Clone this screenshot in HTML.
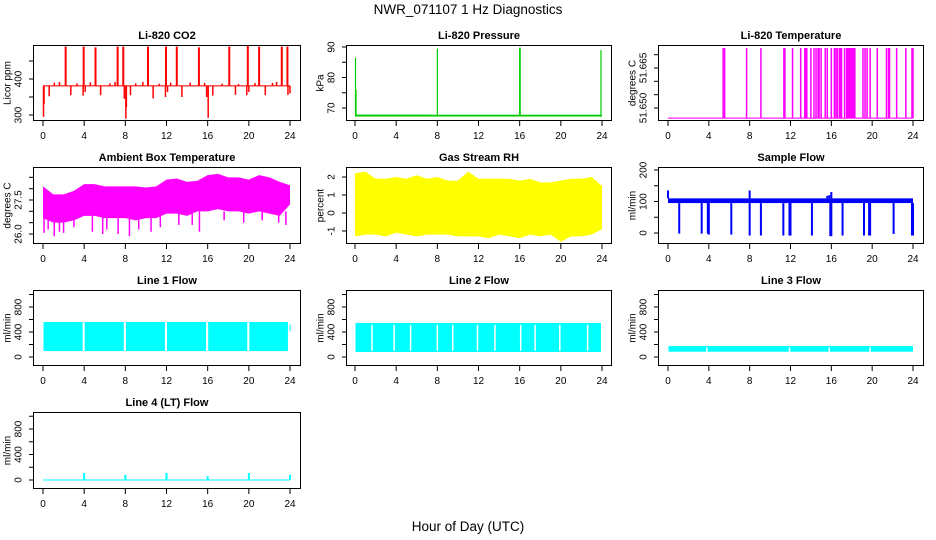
<!DOCTYPE html>
<html><head><meta charset="utf-8"><style>
html,body{margin:0;padding:0;background:#fff;}
svg{display:block;font-family:"Liberation Sans",sans-serif;}
</style></head><body>
<svg id="chart" width="936" height="540" viewBox="0 0 936 540">
<text x="468" y="14" text-anchor="middle" font-size="13.5">NWR_071107  1 Hz Diagnostics</text>
<text x="468" y="531" text-anchor="middle" font-size="13.5">Hour of Day (UTC)</text>
</svg>
<script>
// ---------- data ----------
const xTicks = [0,4,8,12,16,20,24];
// CO2
const co2Base = 381;
const co2UpSpikeHours = [2.2,3.95,5.1,7.25,7.8,10.2,11.95,13.0,15.15,18.1,19.9,21.0,23.2,23.75];
const co2UpSpikeValues = [490,490,488,490,490,490,490,490,488,490,492,490,490,490];
const co2DownHours = [0.05,0.1,0.6,2.7,3.9,4.1,5.6,7.9,8.05,8.1,8.5,10.7,11.9,12.1,13.5,15.9,16.05,16.5,18.7,19.8,20.0,21.6,23.8,24.0];
const co2DownValues = [295,330,352,355,354,364,355,345,290,322,355,346,350,364,350,350,292,354,356,355,364,355,356,360];
const co2SmallHours = [1.1,1.6,3.3,4.6,6.5,7.0,9.0,9.7,11.3,12.4,14.3,15.7,17.4,19.0,20.6,22.3,22.7];
const co2SmallValues = [390,392,388,391,388,392,388,392,387,390,390,389,387,386,389,389,392];
// Pressure
const presBase = 67.5;
const presSpikeHours = [0.05,0.1,8.0,16.0,16.05,23.9];
const presSpikeValues = [86.5,76,89.5,89.8,89.8,89];
// Li-820 temperature
const tempBase = 51.6462;
const tempTop = 51.6725;
const tempSpikeHours = [5.4,5.55,7.7,9.1,11.35,11.45,12.2,13.0,13.4,13.5,13.6,14.0,14.3,14.5,14.7,14.8,15.0,15.4,15.6,16.0,16.3,16.45,16.6,16.8,16.9,17.0,17.3,17.5,17.6,17.7,17.8,17.9,18.0,18.1,18.2,18.3,19.1,19.3,19.5,19.8,20.5,21.4,21.6,21.7,22.4,23.3,23.9,24.0];
// Ambient box temperature (hourly envelopes)
const hours = [0,1,2,3,4,5,6,7,8,9,10,11,12,13,14,15,16,17,18,19,20,21,22,23,24];
const ambUpper = [28.1,27.75,27.75,27.9,28.2,28.2,28.1,28.1,28.1,28.1,28.05,28.1,28.4,28.45,28.3,28.35,28.6,28.65,28.5,28.5,28.4,28.6,28.5,28.3,28.15];
const ambLower = [26.7,26.5,26.5,26.6,26.8,26.8,26.7,26.7,26.7,26.6,26.7,26.7,26.9,26.9,26.8,27.0,27.0,27.1,27.0,27.0,26.9,27.0,26.9,26.8,27.3];
const ambDipHours = [0.1,0.5,1.1,1.6,2.0,3.0,4.8,5.8,6.2,7.3,8.4,9.3,10.5,11.4,13.2,14.5,15.2,17.6,19.5,21.3,22.9,23.6];
const ambDipValues = [26.05,26.2,25.9,26.1,26.05,26.3,26.1,26.0,26.2,26.0,25.9,26.2,26.1,26.3,26.4,26.4,26.1,26.6,26.5,26.6,26.5,26.4];
// Gas stream RH
const rhUpper = [2.2,2.3,1.9,1.9,2.0,1.9,2.1,1.9,2.0,1.8,1.8,2.3,1.9,1.9,1.9,1.9,1.8,1.9,1.7,1.7,1.8,1.9,1.9,2.0,1.5];
const rhLower = [-1.3,-1.2,-1.2,-1.3,-1.1,-1.2,-1.3,-1.2,-1.2,-1.2,-1.3,-1.3,-1.3,-1.4,-1.2,-1.3,-1.4,-1.2,-1.3,-1.2,-1.6,-1.3,-1.3,-1.2,-0.9];
// Sample flow
const sfLow = 95, sfHigh = 110;
const sfDownHours = [1.1,3.3,3.9,4.0,6.2,8.0,9.1,11.3,11.9,12.0,14.1,15.9,16.0,17.1,19.2,19.7,19.8,22.1,23.9,24.0];
const sfDownValues = [-2,-2,-2,-5,-5,-8,-8,-8,-8,-8,-8,-10,-10,-8,-8,-8,-8,-3,-8,-8];
const sfUpHours = [0.0,8.0,15.6,15.8,16.0];
const sfUpValues = [135,135,118,120,130];
// Line flows
const l1Segments = [[0.05,3.85],[4.05,7.85],[8.05,11.85],[12.05,15.85],[16.05,19.85],[20.05,23.8]];
const l1Low = 95, l1High = 560;
const l2Start = 0.05, l2End = 23.9, l2Low = 80, l2High = 545;
const l2Gaps = [1.65,3.8,5.4,8.0,9.5,11.9,13.6,16.1,17.5,19.9,22.6];
const l3Start = 0.05, l3End = 24.0, l3Low = 85, l3High = 175;
const l3Gaps = [3.8,11.9,15.8,19.8];
const l4SpikeHours = [4.0,8.0,12.0,16.0,20.0,24.0];
const l4SpikeValues = [110,80,110,60,110,80];

// ---------- drawing helpers ----------
const svg = document.getElementById('chart');
const NS = 'http://www.w3.org/2000/svg';
function mk(tag, attrs, parent){
  const e = document.createElementNS(NS, tag);
  for (const k in attrs) e.setAttribute(k, attrs[k]);
  (parent||svg).appendChild(e);
  return e;
}
const cols = [{l:33,r:301,x0:43,x24:290},{l:346,r:612,x0:355,x24:602},{l:658,r:924,x0:668,x24:913}];
const rows = [{t:45,b:121},{t:167,b:244},{t:290,b:366},{t:412,b:489}];

function panel(name, title, ylab, col, row, ymap, yticks, ylabels){
  const c = cols[col], r = rows[row];
  const g = mk('g', {});
  
  
  const X = h => c.x0 + (c.x24 - c.x0) * h / 24;
  const Y = v => ymap.py0 + (v - ymap.v0) * (ymap.py1 - ymap.py0) / (ymap.v1 - ymap.v0);
  const marks = mk('g', {'clip-path':''}, g);
  
  
  // clip
  const cid = 'clip-' + name;
  const cp = mk('clipPath', {id:cid}, g);
  mk('rect', {x:c.l, y:r.t, width:c.r-c.l, height:r.b-r.t}, cp);
  marks.setAttribute('clip-path', 'url(#' + cid + ')');
  // frame
  const fr = mk('rect', {x:c.l+0.5, y:r.t+0.5, width:c.r-c.l-1, height:r.b-r.t-1, fill:'none', stroke:'#000', 'stroke-width':1}, g);
  
  
  // title
  const tt = mk('text', {x:(c.l+c.r)/2, y:r.t-6, 'text-anchor':'middle', 'font-size':11, 'font-weight':'bold'}, g);
  tt.textContent = title;
  
  
  // x axis
  const xa = mk('g', {}, g);
  
  
  xTicks.forEach(h => {
    mk('line', {x1:X(h), x2:X(h), y1:r.b, y2:r.b+5, stroke:'#000'}, xa);
    const t = mk('text', {x:X(h), y:r.b+18, 'text-anchor':'middle', 'font-size':10}, xa);
    t.textContent = h;
  });
  // y axis
  const ya = mk('g', {}, g);
  
  
  yticks.forEach(v => {
    mk('line', {x1:c.l-4, x2:c.l, y1:Y(v), y2:Y(v), stroke:'#000'}, ya);
  });
  ylabels.forEach(v => {
    const t = mk('text', {x:c.l-10, y:Y(v), 'text-anchor':'middle', 'font-size':10, transform:'rotate(-90 ' + (c.l-10) + ' ' + Y(v) + ')', dy:0}, ya);
    t.setAttribute('x', c.l-10); t.setAttribute('y', Y(v)+0);
    t.setAttribute('transform', 'rotate(-90 ' + (c.l-14) + ' ' + Y(v) + ')');
    t.setAttribute('x', c.l-14); t.setAttribute('dominant-baseline','central');
    t.textContent = v;
  });
  const yl = mk('text', {x:c.l-25, y:(r.t+r.b)/2, 'text-anchor':'middle', 'font-size':10, 'dominant-baseline':'central', transform:'rotate(-90 ' + (c.l-25) + ' ' + ((r.t+r.b)/2) + ')'}, g);
  yl.textContent = ylab;
  
  
  return {X, Y, g:marks};
}
function vline(p, h, v1, v2, color, w){
  const l = mk('line', {x1:p.X(h), x2:p.X(h), y1:p.Y(v1), y2:p.Y(v2), stroke:color, 'stroke-width':w||1.5}, p.g);
  
  
  return l;
}
function band(p, h1, h2, v1, v2, color, nm){
  const x = Math.min(p.X(h1), p.X(h2)), y = Math.min(p.Y(v1), p.Y(v2));
  const e = mk('rect', {x:x, y:y, width:Math.abs(p.X(h2)-p.X(h1)), height:Math.abs(p.Y(v2)-p.Y(v1)), fill:color}, p.g);
  
  
  return e;
}
function envelope(p, hs, up, lo, color, nm){
  let pts = hs.map((h,i) => p.X(h)+','+p.Y(up[i]));
  for (let i = hs.length-1; i >= 0; i--) pts.push(p.X(hs[i])+','+p.Y(lo[i]));
  const e = mk('polygon', {points:pts.join(' '), fill:color}, p.g);
  
  
}

// ---------- panels ----------
// CO2
let p = panel('co2-panel','Li-820 CO2','Licor ppm',0,0,{v0:300,py0:115,v1:400,py1:79},[300,350,400,450],[300,400]);
band(p,0,24,co2Base-1.5,co2Base+1.5,'#ff0000','co2-baseline');
co2UpSpikeHours.forEach((h,i)=>vline(p,h,co2Base,co2UpSpikeValues[i],'#ff0000',2));
co2DownHours.forEach((h,i)=>vline(p,h,co2Base,co2DownValues[i],'#ff0000',1.5));
co2SmallHours.forEach((h,i)=>vline(p,h,co2Base,co2SmallValues[i],'#ff0000',1.5));

// Pressure
p = panel('pressure-panel','Li-820 Pressure','kPa',1,0,{v0:70,py0:108,v1:90,py1:47},[70,75,80,85,90],[70,80,90]);
band(p,0,24,presBase-0.3,presBase+0.3,'#00cc00','pressure-baseline');
band(p,0.05,7.3,presBase,presBase+0.3,'#00cc00','pressure-baseline-upper');
presSpikeHours.forEach((h,i)=>vline(p,h,presBase,presSpikeValues[i],'#00cc00',1.2));

// Li-820 temperature
p = panel('li820-temp-panel','Li-820 Temperature','degrees C',2,0,{v0:51.650,py0:108,v1:51.665,py1:68},[51.650,51.655,51.660,51.665,51.670],['51.650','51.665']);
band(p,0,24,tempBase-0.0002,tempBase+0.0002,'#ff00ff','temp-baseline');
tempSpikeHours.forEach(h=>vline(p,h,tempBase,tempTop,'#ff00ff',1.5));

// Ambient
p = panel('ambient-temp-panel','Ambient Box Temperature','degrees C',0,1,{v0:26.0,py0:234,v1:27.5,py1:200},[26.0,26.5,27.0,27.5,28.0,28.5],['26.0','27.5']);
envelope(p,hours,ambUpper,ambLower,'#ff00ff','ambient-envelope');
ambDipHours.forEach((h,i)=>vline(p,h,27.0,ambDipValues[i],'#ff00ff',1.5));

// RH
p = panel('rh-panel','Gas Stream RH','percent',1,1,{v0:-1,py0:231,v1:2,py1:177},[-1,0,1,2],[-1,0,1,2]);
envelope(p,hours,rhUpper,rhLower,'#ffff00','rh-envelope');

// Sample flow
p = panel('sample-flow-panel','Sample Flow','ml/min',2,1,{v0:0,py0:233,v1:200,py1:170},[0,50,100,150,200],[0,100,200]);
band(p,0,24,sfLow,sfHigh,'#0000ff','sample-flow-band');
sfDownHours.forEach((h,i)=>vline(p,h,sfLow,sfDownValues[i],'#0000ff',2));
sfUpHours.forEach((h,i)=>vline(p,h,sfHigh,sfUpValues[i],'#0000ff',2));

// Line 1
const lfTicks = [0,200,400,600,800,1000], lfLabels = [0,400,800];
p = panel('line1-flow-panel','Line 1 Flow','ml/min',0,2,{v0:0,py0:357,v1:800,py1:307},lfTicks,lfLabels);
l1Segments.forEach(s=>band(p,s[0],s[1],l1Low,l1High,'#00ffff','line1-block'));
band(p,23.95,24.05,410,520,'#00ffff','line1-end');

// Line 2
p = panel('line2-flow-panel','Line 2 Flow','ml/min',1,2,{v0:0,py0:357,v1:800,py1:307},lfTicks,lfLabels);
band(p,l2Start,l2End,l2Low,l2High,'#00ffff','line2-block');
l2Gaps.forEach(h=>vline(p,h,l2Low+20,l2High-30,'#ffffff',1.5));

// Line 3
p = panel('line3-flow-panel','Line 3 Flow','ml/min',2,2,{v0:0,py0:357,v1:800,py1:307},lfTicks,lfLabels);
band(p,l3Start,l3End,l3Low,l3High,'#00ffff','line3-block');
l3Gaps.forEach(h=>vline(p,h,l3Low,l3High-20,'#ffffff',1.5));

// Line 4
p = panel('line4-flow-panel','Line 4 (LT) Flow','ml/min',0,3,{v0:0,py0:480,v1:800,py1:429},lfTicks,lfLabels);
band(p,0,24,-8,8,'#00ffff','line4-baseline');
l4SpikeHours.forEach((h,i)=>vline(p,h,0,l4SpikeValues[i],'#00ffff',2));
</script>
</body></html>
